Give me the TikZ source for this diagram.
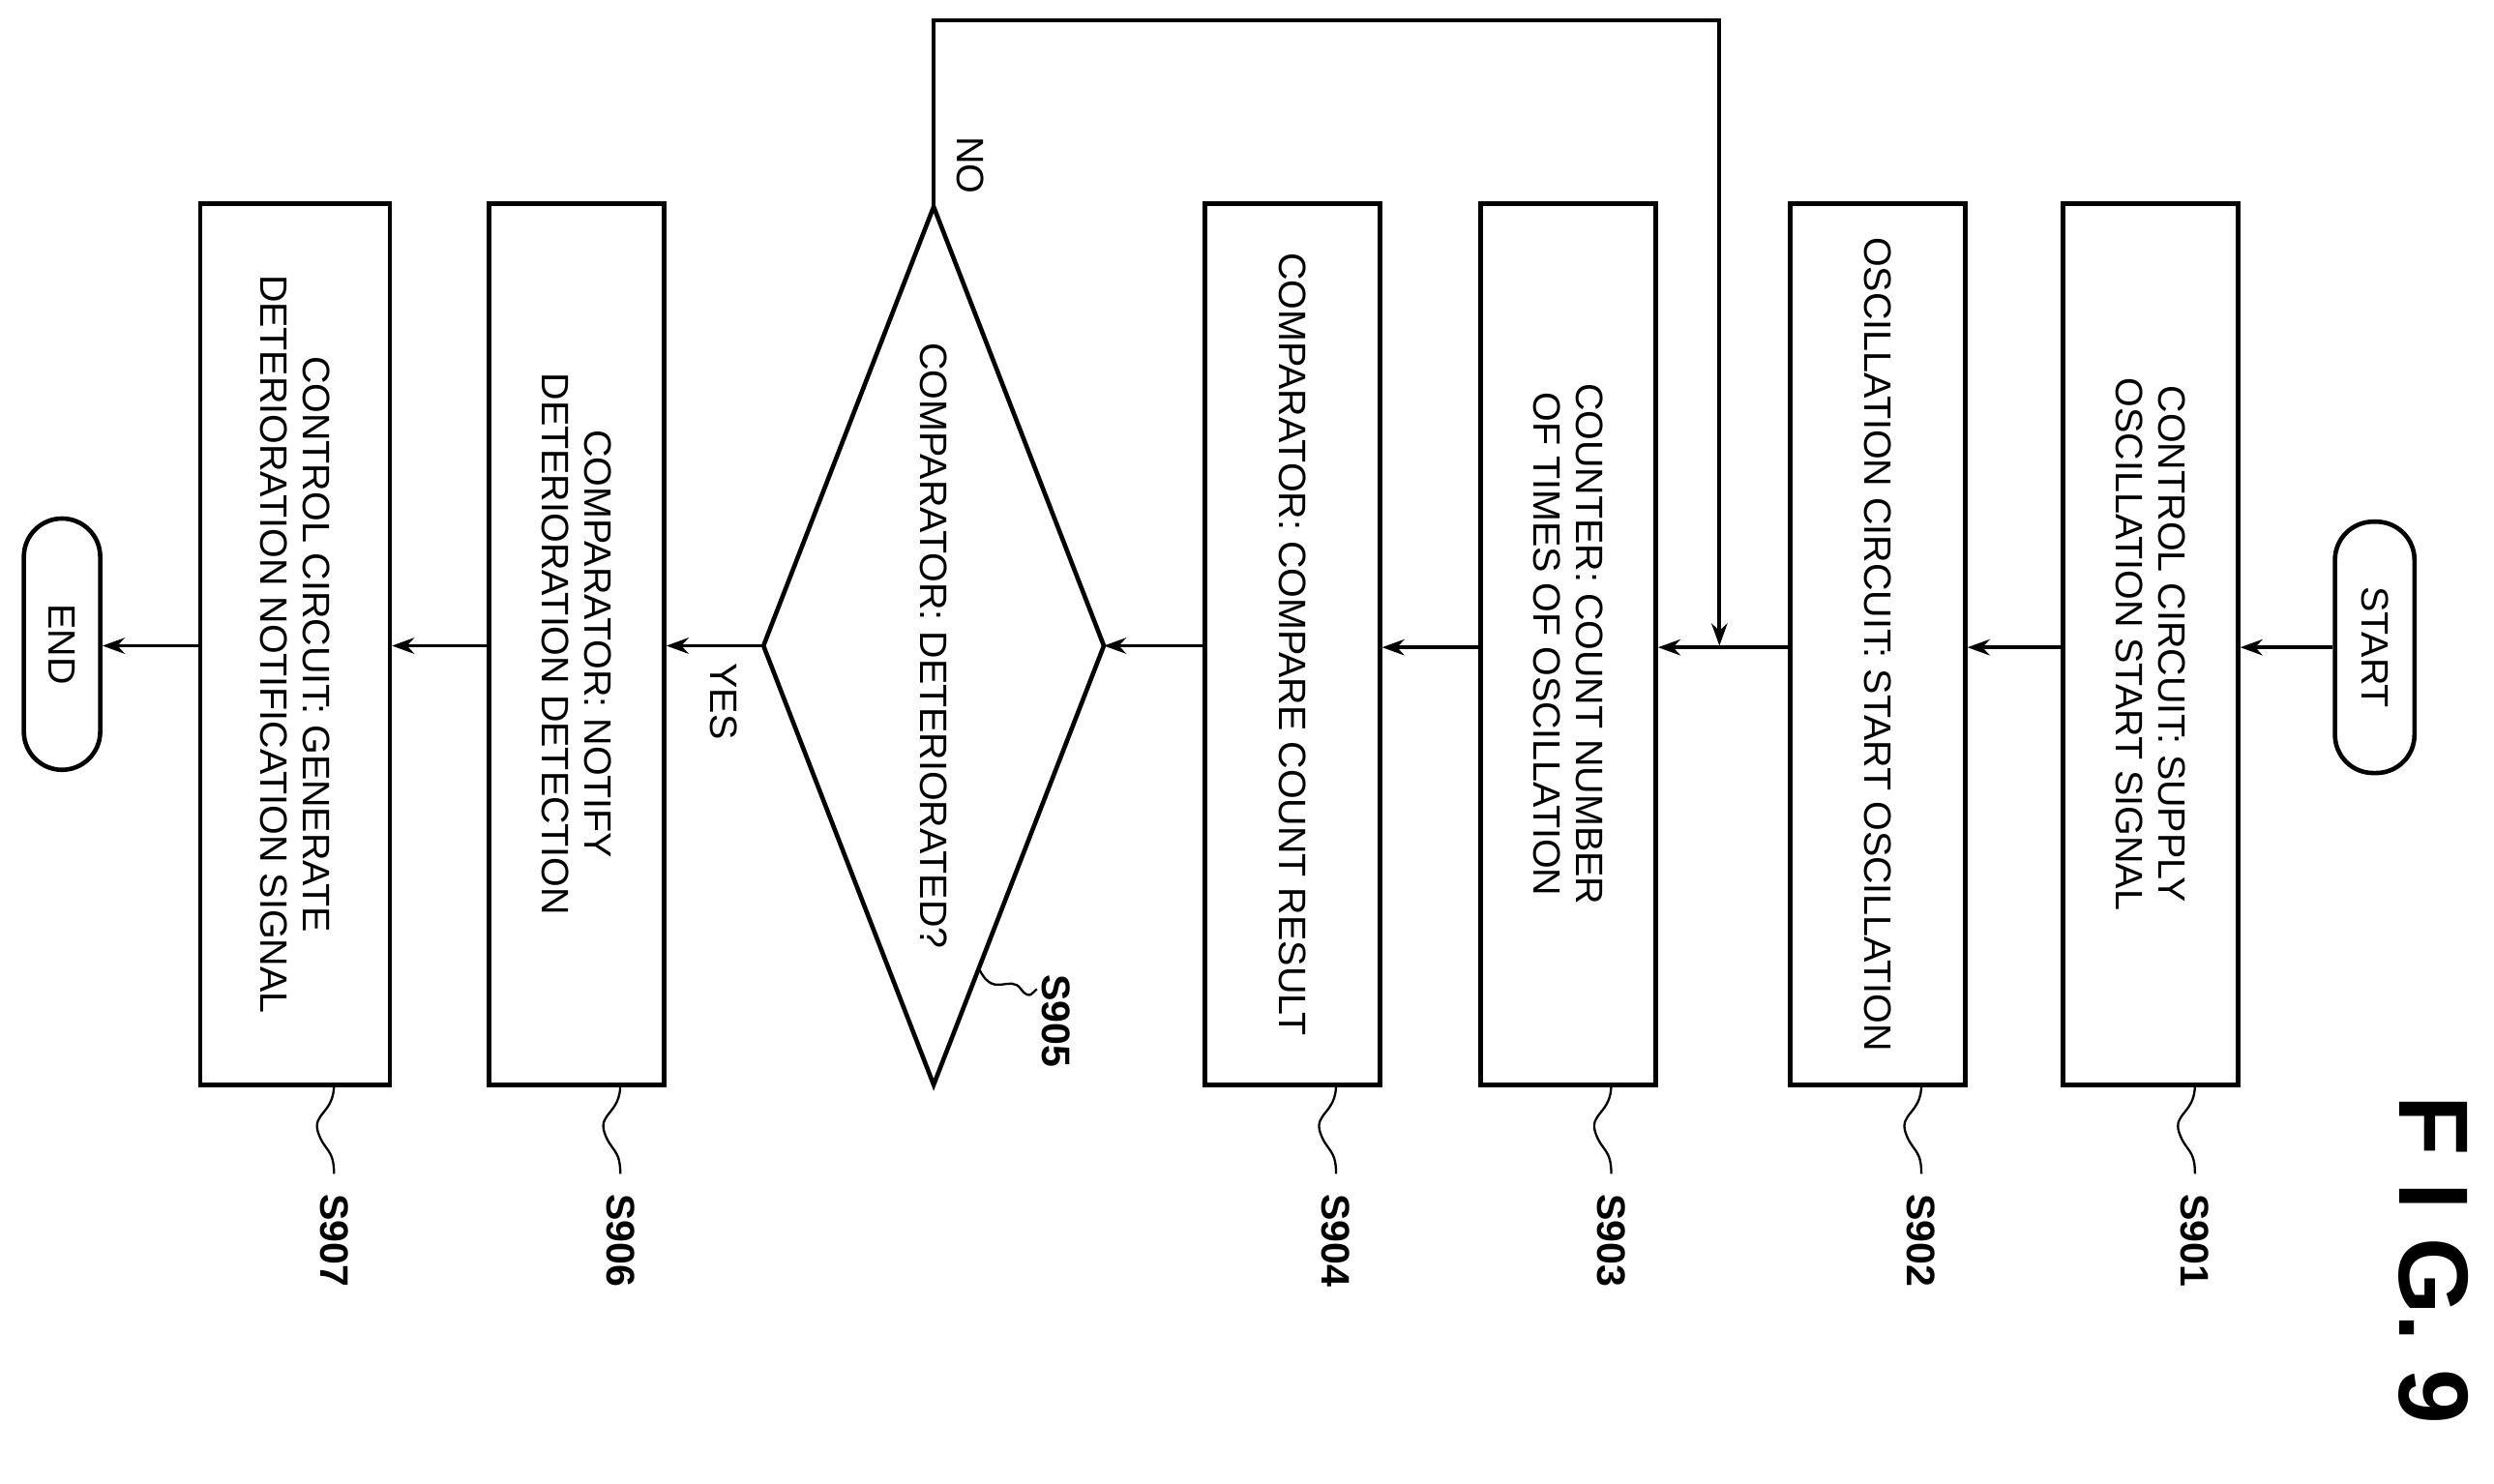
\documentclass[tikz,border=0pt]{standalone}
\usepackage{fontspec}
\setmainfont{Liberation Sans}
\usetikzlibrary{arrows.meta}
\begin{document}
\begin{tikzpicture}[x=1pt,y=-1pt,
  box/.style={draw,line width=2.8pt,minimum width=110pt,minimum height=554pt,inner sep=0pt},
  term/.style={draw,line width=2.8pt,rounded corners=24pt,minimum width=50pt,minimum height=158pt,inner sep=0pt},
  txt/.style={rotate=-90,align=center,font=\fontsize{24}{27}\selectfont},
  lab/.style={rotate=-90,font=\fontsize{25}{27}\selectfont\bfseries},
  arr/.style={line width=2.4pt,-{Stealth[length=14pt,width=10pt]}},
  sq/.style={line width=1.4pt}]
\useasboundingbox (0,0) rectangle (1568,933);
\node[term] (start) at (1493,407) {};
\node[txt] at (start.center) {START};
\node[box] (s901) at (1352,405) {};
\node[txt] at (s901.center) {CONTROL CIRCUIT: SUPPLY\\OSCILLATION START SIGNAL};
\node[box] (s902) at (1180.5,405) {};
\node[txt] at (s902.center) {OSCILLATION CIRCUIT: START OSCILLATION};
\node[box] (s903) at (986,405) {};
\node[txt] at (s903.center) {COUNTER: COUNT NUMBER\\OF TIMES OF OSCILLATION};
\node[box] (s904) at (812.5,405) {};
\node[txt] at (s904.center) {COMPARATOR: COMPARE COUNT RESULT};
\coordinate (dt) at (587,130);
\coordinate (db) at (587,682);
\coordinate (dl) at (480,406);
\coordinate (dr) at (694,406);
\draw[line width=2.8pt,line join=miter] (dt)--(dr)--(db)--(dl)--cycle;
\node[txt] (dtext) at (587,406) {COMPARATOR: DETERIORATED?};
\node[box] (s906) at (362.5,405) {};
\node[txt] at (s906.center) {COMPARATOR: NOTIFY\\DETERIORATION DETECTION};
\node[box,minimum width=119pt] (s907) at (185.5,405) {};
\node[txt] at (s907.center) {CONTROL CIRCUIT: GENERATE\\DETERIORATION NOTIFICATION SIGNAL};
\node[term,minimum width=48pt] (end) at (39,405) {};
\node[txt] at (end.center) {END};
% arrows
\draw[arr] (start.west) -- (s901.east |- start.west);
\draw[arr] (s901.west |- start.west) -- (s902.east |- start.west);
\draw[arr] (s902.west |- start.west) -- (s903.east |- start.west);
\draw[arr] (s903.west |- start.west) -- (s904.east |- start.west);
\draw[arr] (s904.west |- dr) -- (dr);
\draw[arr] (dl) -- (s906.east |- dl);
\draw[arr] (s906.west |- dl) -- (s907.east |- dl);
\draw[arr] (s907.west |- dl) -- (end.east |- dl);
\coordinate (j) at (1081,406);
\draw[arr] (dt) -- (587,13) -- (1081,13) -- (j);
\node[rotate=-90,font=\fontsize{24}{27}\selectfont] (no) at (610,104) {NO};
\node[rotate=-90,font=\fontsize{24}{27}\selectfont] (yes) at (455,441) {YES};
% labels
\foreach \n/\x/\t in {s901/1380/S901,s902/1208/S902,s903/1013/S903,s904/840/S904,s906/390/S906,s907/210/S907}{
  \coordinate (\n b) at (\x,682);
  \node[lab] (\n l) at (\x,780) {\t};
  \draw[sq] (\n b) .. controls (\x,700) and (\x-14,700) .. (\x-10,712) .. controls (\x-6,724) and (\x,722) .. (\x,738);
}
\node[lab] (s905l) at (664,642) {S905};
\coordinate (s905b) at (616,610);
\draw[sq] (s905b) .. controls (625,628) and (635,612) .. (642,622) .. controls (648,630) and (650,622) .. (652,622);
\node[rotate=-90,font=\fontsize{62}{62}\selectfont\bfseries] (fig) at (1530,792) {F I G.\ 9};
\end{tikzpicture}
\end{document}
